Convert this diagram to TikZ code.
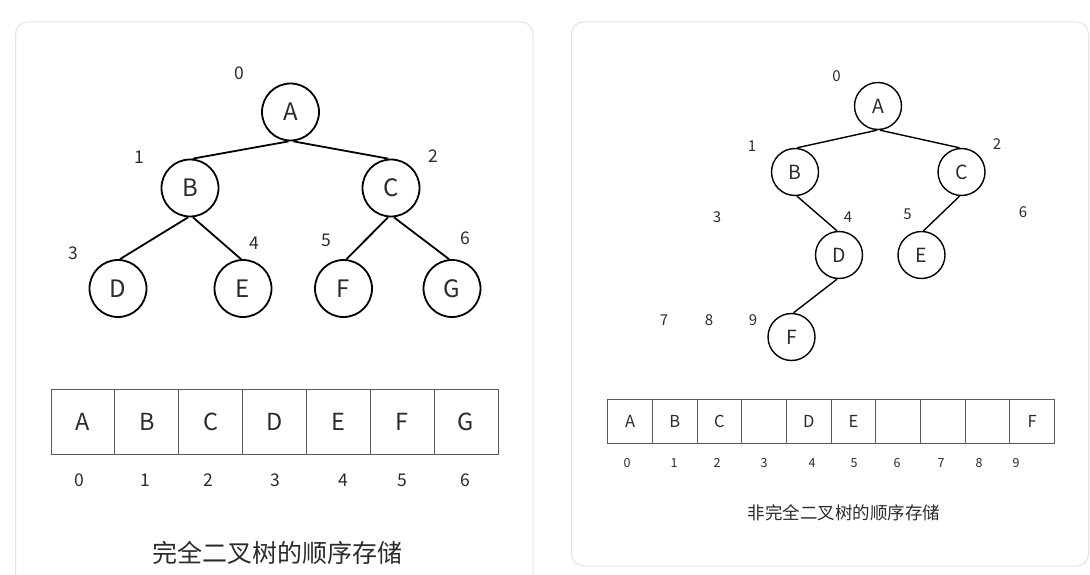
\documentclass[tikz,border=0pt]{standalone}
\usepackage{fontspec}
\setmainfont{Noto Sans CJK SC}
\definecolor{txt}{HTML}{2B2B2B}
\definecolor{pan}{HTML}{E3E3E3}
\definecolor{cellc}{HTML}{5A5A5A}
\begin{document}
\begin{tikzpicture}[x=1pt,y=-1pt,
  panel/.style={draw=pan,line width=1pt,rounded corners=12pt},
  lcirc/.style={circle,draw=black,line width=1.8pt,minimum size=57pt,inner sep=0pt,text=txt,font=\fontsize{24}{28}\selectfont},
  rcirc/.style={circle,draw=black,line width=1.4pt,minimum size=47pt,inner sep=0pt,text=txt,font=\fontsize{19.5}{23}\selectfont},
  ledge/.style={line width=1.8pt},
  redge/.style={line width=1.4pt},
  lidx/.style={text=txt,inner sep=0pt,font=\fontsize{17.5}{20}\selectfont},
  ridx/.style={text=txt,inner sep=0pt,font=\fontsize{15}{17}\selectfont},
  lcell/.style={draw=cellc,line width=1pt,minimum width=63.86pt,minimum height=65pt,inner sep=0pt,text=txt,font=\fontsize{23.5}{27}\selectfont},
  rcell/.style={draw=cellc,line width=1pt,minimum width=44.67pt,minimum height=44pt,inner sep=0pt,text=txt,font=\fontsize{16.5}{19}\selectfont},
  laidx/.style={text=txt,inner sep=0pt,font=\fontsize{17.5}{20}\selectfont},
  raidx/.style={text=txt,inner sep=0pt,font=\fontsize{12.5}{15}\selectfont},
  capt/.style={text=txt,inner sep=0pt}
]
\useasboundingbox (0,0) rectangle (1090,575);
% panels
\draw[panel] (15.5,575) -- (15.5,22) -- (533,22) -- (533,575);
\draw[panel] (571.5,22) rectangle (1088.5,566);

% ---------- left tree ----------
\node[lcirc] (A) at (290.5,112) {A};
\node[lcirc] (B) at (190,188) {B};
\node[lcirc] (C) at (391,188) {C};
\node[lcirc] (D) at (118,288.5) {D};
\node[lcirc] (E) at (243,288.5) {E};
\node[lcirc] (F) at (343.5,288.5) {F};
\node[lcirc] (G) at (452,288.5) {G};
\draw[ledge] ([xshift=-2pt]A.south) -- ([xshift=3pt]B.north);
\draw[ledge] ([xshift=3pt]A.south) -- ([xshift=-3pt]C.north);
\draw[ledge] ([xshift=-2pt]B.south) -- ([xshift=2pt]D.north);
\draw[ledge] ([xshift=3pt]B.south) -- ([xshift=-2pt]E.north);
\draw[ledge] ([xshift=-3pt]C.south) -- ([xshift=3pt]F.north);
\draw[ledge] ([xshift=3pt]C.south) -- ([xshift=-3pt]G.north);
\node[lidx] (i0) at (239,73) {0};
\node[lidx] (i1) at (139,157) {1};
\node[lidx] (i2) at (433,156) {2};
\node[lidx] (i3) at (73,253) {3};
\node[lidx] (i4) at (254,243) {4};
\node[lidx] (i5) at (326,240) {5};
\node[lidx] (i6) at (465,238) {6};

% ---------- left array ----------
\foreach \l [count=\k from 0] in {A,B,C,D,E,F,G}{
  \node[lcell] (lc\k) at ({51+63.86*(\k+0.5)},421.5) {\l};
}
\foreach \n/\x in {0/79,1/145,2/208,3/275,4/343,5/402,6/465}{
  \node[laidx] (la\n) at (\x,480) {\n};
}
\node[capt,font=\fontsize{25}{30}\selectfont] (lcap) at (277,553) {完全二叉树的顺序存储};

% ---------- right tree ----------
\node[rcirc] (rA) at (878,106) {A};
\node[rcirc] (rB) at (795,172) {B};
\node[rcirc] (rC) at (961.5,172) {C};
\node[rcirc] (rD) at (839,255) {D};
\node[rcirc] (rE) at (921.5,255) {E};
\node[rcirc] (rF) at (791.5,337) {F};
\draw[redge] ([xshift=-1pt]rA.south) -- ([xshift=2pt]rB.north);
\draw[redge] ([xshift=2pt]rA.south) -- ([xshift=-2pt]rC.north);
\draw[redge] ([xshift=2pt]rB.south) -- ([xshift=-2pt]rD.north);
\draw[redge] ([xshift=-2pt]rC.south) -- ([xshift=2pt]rE.north);
\draw[redge] ([xshift=-2pt]rD.south) -- ([xshift=2pt]rF.north);
\node[ridx] (j0) at (836.5,76) {0};
\node[ridx] (j1) at (752,146) {1};
\node[ridx] (j2) at (997,144) {2};
\node[ridx] (j3) at (717,217) {3};
\node[ridx] (j4) at (848,217) {4};
\node[ridx] (j5) at (907.5,214) {5};
\node[ridx] (j6) at (1023,212) {6};
\node[ridx] (j7) at (664,320) {7};
\node[ridx] (j8) at (709,320) {8};
\node[ridx] (j9) at (753,320) {9};

% ---------- right array ----------
\foreach \l [count=\k from 0] in {A,B,C,{},D,E,{},{},{},F}{
  \node[rcell] (rc\k) at ({607.7+44.67*(\k+0.5)},421) {\l};
}
\foreach \n/\x in {0/627,1/674,2/717,3/764,4/812,5/854,6/897,7/941,8/979,9/1016}{
  \node[raidx] (ra\n) at (\x,463) {\n};
}
\node[capt,font=\fontsize{17.5}{21}\selectfont] (rcap) at (844,513) {非完全二叉树的顺序存储};
\end{tikzpicture}
\end{document}
